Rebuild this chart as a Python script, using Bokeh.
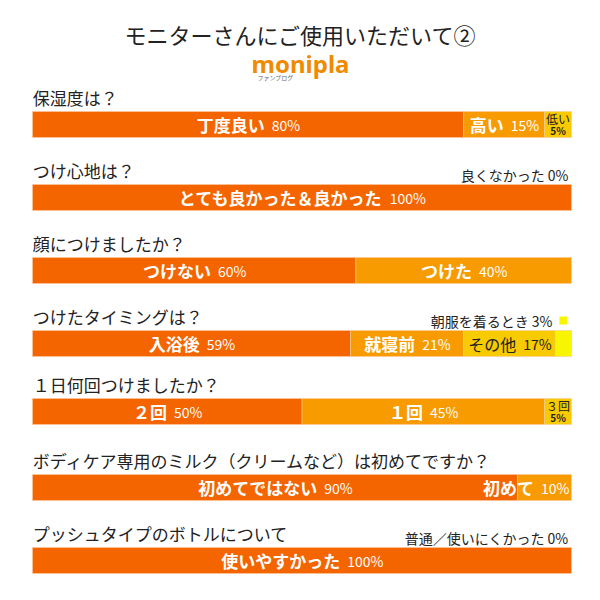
from bokeh.plotting import figure
from bokeh.models import Range1d, ColumnDataSource
from bokeh.core.properties import value
from bokeh.embed import file_html
from bokeh.resources import INLINE

# ---------------- data ----------------
title = "モニターさんにご使用いただいて②"
questions = [
    "保湿度は？",
    "つけ心地は？",
    "顔につけましたか？",
    "つけたタイミングは？",
    "１日何回つけましたか？",
    "ボディケア専用のミルク（クリームなど）は初めてですか？",
    "プッシュタイプのボトルについて",
]
q1_labels = ["丁度良い", "高い", "低い"]
q1_values = [80, 15, 5]
q2_labels = ["とても良かった＆良かった", "良くなかった"]
q2_values = [100, 0]
q3_labels = ["つけない", "つけた"]
q3_values = [60, 40]
q4_labels = ["入浴後", "就寝前", "その他", "朝服を着るとき"]
q4_values = [59, 21, 17, 3]
q5_labels = ["２回", "１回", "３回"]
q5_values = [50, 45, 5]
q6_labels = ["初めてではない", "初めて"]
q6_values = [90, 10]
q7_labels = ["使いやすかった", "普通／使いにくかった"]
q7_values = [100, 0]

all_labels = [q1_labels, q2_labels, q3_labels, q4_labels, q5_labels, q6_labels, q7_labels]
all_values = [q1_values, q2_values, q3_values, q4_values, q5_values, q6_values, q7_values]

# ---------------- layout / style ----------------
colors = ["#F46500", "#F79B00", "#F8CA00", "#F8F500"]
FONT = "Noto Sans CJK JP"
W = H = 584
OFF = 0                            # page offset of the figure
BAR_X0, BAR_X1 = 32, 571          # page px of 0% and 100%
PX = 100.0 / (BAR_X1 - BAR_X0)    # pct units per pixel
bar_tops = [111, 184, 257, 330, 398, 474, 547]
BAR_H = 26

p = figure(width=W, height=H, output_backend="svg", toolbar_location=None,
           x_range=Range1d(-(BAR_X0 - OFF) * PX, 100 + (OFF + W - BAR_X1) * PX),
           y_range=Range1d(OFF + H, OFF), min_border=0)
p.axis.visible = False
p.grid.visible = False
p.outline_line_color = None
p.background_fill_color = "white"


def txt(x, y, s, size, color="#222222", align="left", weight="normal", baseline="middle"):
    p.text(x=[x], y=[y], text=[s], text_font=value(FONT), text_font_size=f"{size}px",
           text_color=color, text_align=align, text_baseline=baseline,
           text_font_style=weight)


# title and logo
txt((300 - BAR_X0) * PX, 33, title, 22, "#222222", "center")
p.text(x=[(300 - BAR_X0) * PX], y=[63], text=["monipla"], text_font=value("Noto Sans"),
       text_font_size="24px", text_color="#F08A00", text_align="center",
       text_baseline="middle", text_font_style="bold")
txt((257 - BAR_X0) * PX, 77, "ファンブログ", 6, "#666666", "left")

quads = dict(left=[], right=[], top=[], bottom=[], color=[])
for i, (q, labs, vals) in enumerate(zip(questions, all_labels, all_values)):
    top = bar_tops[i]
    bottom = top + BAR_H
    cy = top + BAR_H / 2
    txt(0.2 * PX, top - 14, q, 17, "#222222", "left")
    cum = 0
    for j, (lab, v) in enumerate(zip(labs, vals)):
        left, right = cum, cum + v
        cum = right
        pct = f"{v}%"
        if v > 0:
            quads["left"].append(left)
            quads["right"].append(right)
            quads["top"].append(top)
            quads["bottom"].append(bottom)
            quads["color"].append(colors[j])
        if v < 5:
            # label outside, above the bar's right end
            s = f"{lab} {pct}"
            if v > 0:
                mx = (left + right) / 2
                p.rect(x=[mx], y=[top - 10], width=8 * PX, height=8,
                       fill_color=colors[j], line_color=None)
                txt(100 - 19 * PX, top - 10, s, 14, "#222222", "right")
            else:
                txt(100 - 3 * PX, top - 10, s, 14, "#222222", "right")
        elif v <= 5:
            mx = (left + right) / 2
            txt(mx, cy - 6, lab, 12, "#222222", "center")
            txt(mx, cy + 6, pct, 10, "#222222", "center", "bold")
        else:
            dark = j == 2
            name_size = 16 if dark else 17
            name_w = len(lab) * name_size
            pct_w = 0.56 * 14 * (len(pct) - 1) + 0.85 * 14
            gap = 7
            total = name_w + gap + pct_w
            center_px = ((left + right) / 2) / PX
            start_px = center_px - total / 2
            end_limit = right / PX - 3
            if start_px + total > end_limit:
                start_px = end_limit - total
            col = "#222222" if dark else "white"
            wt = "normal" if dark else "bold"
            txt(start_px * PX, cy, lab, name_size, col, "left", wt)
            txt((start_px + name_w + gap) * PX, cy + 0.5, pct, 14, col, "left")

src = ColumnDataSource(quads)
p.quad(left="left", right="right", top="top", bottom="bottom", fill_color="color",
       line_color="#FBC9A0", line_width=0.6, source=src, level="underlay")

open("out.html", "w").write(file_html(p, INLINE))
